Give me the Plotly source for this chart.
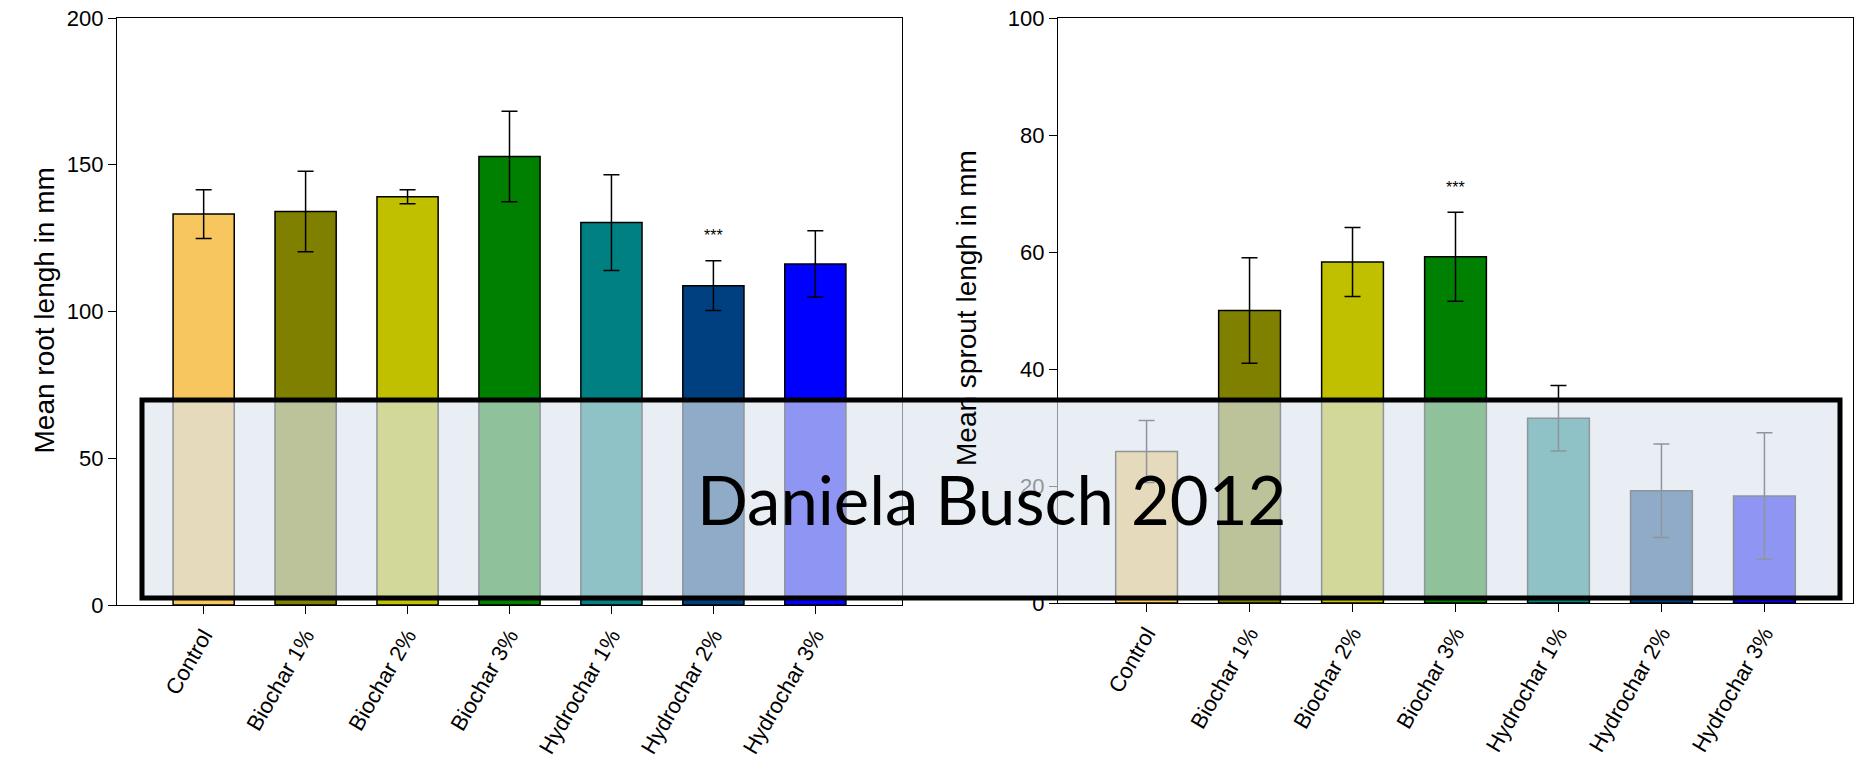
import plotly.graph_objects as go

categories = ["Control", "Biochar 1%", "Biochar 2%", "Biochar 3%",
              "Hydrochar 1%", "Hydrochar 2%", "Hydrochar 3%"]
colors = ["#F7C65F", "#808000", "#C0C000", "#008000", "#008080", "#004080", "#0000FF"]

root_mean = [133.2, 134.1, 139.1, 152.8, 130.3, 108.8, 116.2]
root_err = [8.3, 13.7, 2.4, 15.4, 16.3, 8.5, 11.3]

sprout_mean = [25.9, 50.0, 58.3, 59.2, 31.6, 19.2, 18.3]
sprout_err = [5.3, 9.0, 5.9, 7.6, 5.6, 8.0, 10.8]

W, H = 1862, 759
FONT = "Liberation Sans, Arial, sans-serif"

fig = go.Figure()
fig.add_trace(go.Bar(x=categories, y=root_mean, width=0.6,
                     marker=dict(color=colors, line=dict(color="black", width=1.5)),
                     error_y=dict(type="data", array=root_err, color="black", thickness=1.5, width=8),
                     xaxis="x", yaxis="y", showlegend=False))
fig.add_trace(go.Bar(x=categories, y=sprout_mean, width=0.6,
                     marker=dict(color=colors, line=dict(color="black", width=1.5)),
                     error_y=dict(type="data", array=sprout_err, color="black", thickness=1.5, width=8),
                     xaxis="x2", yaxis="y2", showlegend=False))

def px_x(p):
    return p / W

def px_y(p):
    return 1 - p / H

axis_common = dict(showline=True, linecolor="black", linewidth=1.2, mirror=True,
                   ticks="outside", ticklen=8, tickwidth=1.2, tickcolor="black",
                   showgrid=False, zeroline=False, automargin=False,
                   tickfont=dict(family=FONT, size=22, color="black"))

fig.update_layout(
    width=W, height=H, margin=dict(l=0, r=0, t=0, b=0, autoexpand=False),
    paper_bgcolor="white", plot_bgcolor="white", bargap=0.4,
    xaxis=dict(domain=[px_x(117), px_x(902)], range=[-0.85, 6.85], tickangle=-60, **axis_common),
    yaxis=dict(domain=[px_y(605), px_y(18)], range=[0, 200], tickvals=[0, 50, 100, 150, 200], **axis_common),
    xaxis2=dict(domain=[px_x(1058), px_x(1853)], range=[-0.86, 6.86], tickangle=-60, anchor="y2", **axis_common),
    yaxis2=dict(domain=[px_y(603), px_y(18)], range=[0, 100], tickvals=[0, 20, 40, 60, 80, 100], anchor="x2", **axis_common),
)

annotations = [
    dict(text="Mean root lengh in mm", x=px_x(26), y=px_y(311), xref="paper", yref="paper",
         textangle=-90, showarrow=False, font=dict(family=FONT, size=28, color="black")),
    dict(text="Mean sprout lengh in mm", x=px_x(966), y=px_y(308), xref="paper", yref="paper",
         textangle=-90, showarrow=False, font=dict(family=FONT, size=28, color="black")),
    dict(text="***", x=categories[5], y=root_mean[5] + root_err[5] + 8.5, xref="x", yref="y",
         showarrow=False, font=dict(family=FONT, size=16, color="black")),
    dict(text="***", x=categories[3], y=sprout_mean[3] + sprout_err[3] + 4.2, xref="x2", yref="y2",
         showarrow=False, font=dict(family=FONT, size=16, color="black")),
    dict(text="Daniela Busch 2012", x=px_x(991), y=px_y(499), xref="paper", yref="paper",
         showarrow=False, font=dict(family="Lato, Open Sans, sans-serif", size=67, color="black")),
]
fig.update_layout(annotations=annotations)

fig.add_shape(type="rect", xref="paper", yref="paper",
              x0=px_x(142), x1=px_x(1840), y0=px_y(598), y1=px_y(400),
              fillcolor="rgba(220,229,237,0.65)", line=dict(color="black", width=5), layer="above")

fig.write_html("out.html")
